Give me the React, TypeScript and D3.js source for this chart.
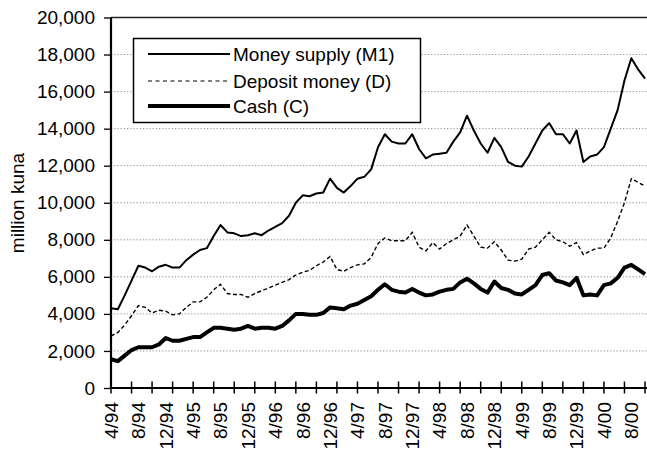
import React, { useEffect, useRef } from "react";
import * as d3 from "d3";

// monthly values, 4/94 .. 10/00 (million kuna)
const moneySupply = [
  4300, 4250, 5000, 5800, 6600, 6500, 6300, 6550, 6650, 6500, 6500, 6900, 7200, 7450, 7550, 8200, 8800, 8400, 8350, 8200,
  8250, 8350, 8250, 8500, 8700, 8900, 9300, 10000, 10400, 10350, 10500, 10550, 11300, 10800, 10550, 10900, 11300, 11400, 11800, 13000,
  13700, 13300, 13200, 13200, 13700, 12900, 12400, 12600, 12650, 12700, 13300, 13800, 14700, 13900, 13200, 12700, 13500, 13000, 12200,
  12000, 11950, 12500, 13200, 13900, 14300, 13700, 13700, 13200, 13900, 12200, 12500, 12600, 13000, 14000, 15000, 16600, 17800, 17200, 16700,
];
const depositMoney = [
  2800, 3000, 3400, 3900, 4450, 4350, 4050, 4200, 4150, 3950, 4000, 4350, 4650, 4650, 4900, 5300, 5600, 5100, 5050, 5050,
  4900, 5100, 5250, 5400, 5550, 5700, 5850, 6100, 6250, 6350, 6600, 6800, 7100, 6400, 6300, 6500, 6650, 6700, 7050, 7800,
  8100, 7950, 7950, 7950, 8400, 7600, 7400, 7850, 7500, 7800, 8000, 8200, 8800, 8200, 7600, 7550, 7900, 7450, 6900,
  6850, 6950, 7500, 7600, 8000, 8400, 8000, 7900, 7650, 7850, 7200, 7400, 7550, 7550, 8100, 9000, 10000, 11300, 11100, 10900,
];
const cash = [
  1550, 1450, 1750, 2050, 2200, 2200, 2200, 2350, 2700, 2550, 2550, 2650, 2750, 2750, 3000, 3250, 3250, 3200, 3150, 3200,
  3350, 3200, 3250, 3250, 3200, 3350, 3650, 4000, 4000, 3950, 3950, 4050, 4350, 4300, 4250, 4450, 4550, 4750, 4950, 5300,
  5600, 5300, 5200, 5150, 5350, 5150, 5000, 5050, 5200, 5300, 5350, 5700, 5900, 5650, 5350, 5150, 5750, 5400, 5300,
  5100, 5050, 5300, 5550, 6100, 6200, 5800, 5700, 5550, 5950, 5000, 5050, 5000, 5550, 5650, 5950, 6500, 6650, 6400, 6150,
];
const xTickLabels = [
  "4/94", "8/94", "12/94", "4/95", "8/95", "12/95", "4/96", "8/96", "12/96", "4/97",
  "8/97", "12/97", "4/98", "8/98", "12/98", "4/99", "8/99", "12/99", "4/00", "8/00",
];
const yTicks = [0, 2000, 4000, 6000, 8000, 10000, 12000, 14000, 16000, 18000, 20000];
const seriesNames = ["Money supply (M1)", "Deposit money (D)", "Cash (C)"];

const W = 647;
const H = 452;
const FONT = "'Liberation Sans', Arial, Helvetica, sans-serif";

const App = () => {
  const ref = useRef<SVGSVGElement>(null);

  useEffect(() => {
    const svg = d3.select(ref.current);
    svg.selectAll("*").remove();

    const left = 111, right = 645, top = 17.5, bottom = 388;
    const n = moneySupply.length;
    const x = d3.scaleLinear().domain([0, n - 1]).range([left, right]);
    const y = d3.scaleLinear().domain([0, 20000]).range([bottom, top]);

    // dotted gridlines
    svg.append("g")
      .selectAll("line")
      .data(yTicks.filter(v => v > 0 && v < 20000))
      .enter()
      .append("line")
      .attr("x1", left)
      .attr("x2", W)
      .attr("y1", d => y(d))
      .attr("y2", d => y(d))
      .attr("stroke", "#8a8a8a")
      .attr("stroke-width", 1)
      .attr("stroke-dasharray", "1.2,2");

    // top border of plot area
    svg.append("line")
      .attr("x1", left).attr("x2", W)
      .attr("y1", top).attr("y2", top)
      .attr("stroke", "#222").attr("stroke-width", 1.6);

    // y axis
    const yAxis = d3.axisLeft(y)
      .tickValues(yTicks)
      .tickFormat(d3.format(","))
      .tickSize(7)
      .tickPadding(9);
    const gy = svg.append("g").attr("transform", `translate(${left},0)`).call(yAxis);
    gy.select(".domain").remove();
    gy.selectAll(".tick line").attr("stroke", "#000").attr("stroke-width", 1.3);
    gy.selectAll(".tick text")
      .attr("font-family", FONT)
      .attr("font-size", 19)
      .attr("fill", "#000");

    // lines
    const line = d3.line<number>()
      .x((d, i) => x(i))
      .y(d => y(d));

    svg.append("path")
      .datum(depositMoney)
      .attr("d", line)
      .attr("fill", "none")
      .attr("stroke", "#000")
      .attr("stroke-width", 1.4)
      .attr("stroke-dasharray", "4,2.5");

    svg.append("path")
      .datum(moneySupply)
      .attr("d", line)
      .attr("fill", "none")
      .attr("stroke", "#000")
      .attr("stroke-width", 2)
      .attr("stroke-linejoin", "round");

    svg.append("path")
      .datum(cash)
      .attr("d", line)
      .attr("fill", "none")
      .attr("stroke", "#000")
      .attr("stroke-width", 4)
      .attr("stroke-linejoin", "round");

    // axis lines
    svg.append("line")
      .attr("x1", left).attr("x2", left)
      .attr("y1", top).attr("y2", bottom + 1)
      .attr("stroke", "#000").attr("stroke-width", 2.2);
    svg.append("line")
      .attr("x1", left - 1).attr("x2", W)
      .attr("y1", bottom).attr("y2", bottom)
      .attr("stroke", "#000").attr("stroke-width", 2.2);

    // x ticks every 3 months, crossing the axis
    svg.append("g")
      .selectAll("line")
      .data(d3.range(0, n, 3))
      .enter()
      .append("line")
      .attr("x1", d => x(d))
      .attr("x2", d => x(d))
      .attr("y1", bottom - 6.5)
      .attr("y2", bottom + 5.5)
      .attr("stroke", "#000")
      .attr("stroke-width", 1.5);

    // x labels every 4 months
    svg.append("g")
      .selectAll("text")
      .data(xTickLabels)
      .enter()
      .append("text")
      .attr("transform", (d, i) => `translate(${x(i * 4)},402) rotate(-90)`)
      .attr("text-anchor", "end")
      .attr("dy", "0.36em")
      .attr("font-family", FONT)
      .attr("font-size", 19)
      .text(d => d);

    // y title
    svg.append("text")
      .attr("transform", `translate(24,203) rotate(-90)`)
      .attr("text-anchor", "middle")
      .attr("font-family", FONT)
      .attr("font-size", 19)
      .text("million kuna");

    // legend
    const lg = svg.append("g");
    lg.append("rect")
      .attr("x", 133.5).attr("y", 38.5)
      .attr("width", 287).attr("height", 84)
      .attr("fill", "#fff")
      .attr("stroke", "#000")
      .attr("stroke-width", 1.5);
    const legendY = [54, 81, 106];
    const legendStyles = [
      { w: 2, dash: null },
      { w: 1.2, dash: "4,3.5" },
      { w: 4, dash: null },
    ];
    seriesNames.forEach((name, i) => {
      lg.append("line")
        .attr("x1", 148).attr("x2", 230)
        .attr("y1", legendY[i]).attr("y2", legendY[i])
        .attr("stroke", "#000")
        .attr("stroke-width", legendStyles[i].w)
        .attr("stroke-dasharray", legendStyles[i].dash);
      lg.append("text")
        .attr("x", 233)
        .attr("y", legendY[i])
        .attr("dy", "0.36em")
        .attr("font-family", FONT)
        .attr("font-size", 19)
        .text(name);
    });
  }, []);

  return (
    <svg
      ref={ref}
      width={W}
      height={H}
      style={{ position: "absolute", left: 0, top: 0, background: "#fff" }}
    />
  );
};

export default App;
